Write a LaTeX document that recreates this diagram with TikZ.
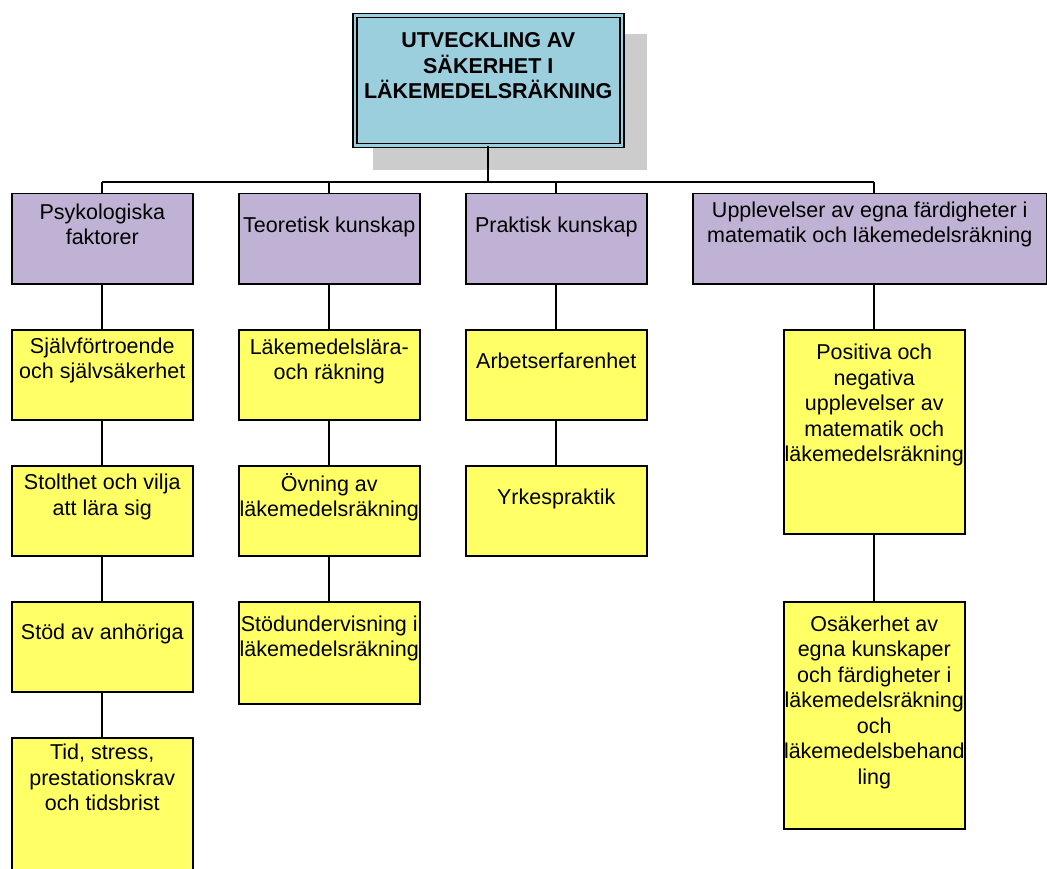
\documentclass[tikz,border=0pt]{standalone}
\usepackage{fontspec}
\setmainfont{Liberation Sans}
\usepackage{xcolor}

\definecolor{titleblue}{RGB}{155,207,221}
\definecolor{grouplilac}{RGB}{192,178,212}
\definecolor{itemyellow}{RGB}{255,255,102}
\definecolor{shadowgray}{RGB}{204,204,204}

\tikzset{
    box/.style={draw, line width=1.5pt, anchor=north west, inner sep=0pt},
    boxtext/.style={align=center, anchor=center, font=\fontsize{21.5}{25.5}\selectfont},
    link/.style={line width=1.6pt},
}

\begin{document}
\begin{tikzpicture}[x=1pt,y=-1pt]
        \clip (0,0) rectangle (1047,869);
        \fill[white] (0,0) rectangle (1047,869);

        \fill[shadowgray] (373,34) rectangle (647,170);
        \node[box, fill=titleblue, line width=1.5pt, double=titleblue, double distance=2.5pt,
              minimum width=267pt, minimum height=130pt,
              label={[boxtext, font=\fontsize{21.5}{25.5}\selectfont\bfseries, yshift=-51pt]north:{UTVECKLING AV\\S\"AKERHET I\\L\"AKEMEDELSR\"AKNING}}]
              (title) at (354,15) {};

        \foreach \n / \x / \y / \w / \off / \txt in {psyk/11/193/181/31.5/{Psykologiska\\faktorer},
                teor/238/193/181/34/{Teoretisk kunskap},
                prakt/465/193/181/34/{Praktisk kunskap},
                uppl/692/193/354/31.5/{Upplevelser av egna färdigheter i\\matematik och läkemedelsräkning}} {
            \node[box, fill=grouplilac, minimum width=\w pt, minimum height=90pt,
                  label={[boxtext, yshift=-\off pt]north:{\txt}}] (\n) at (\x,\y) {};
        };

        \foreach \n / \x / \y / \h / \off / \txt in {sjalv/11/329/90/31.5/{Självförtroende\\och självsäkerhet},
                stolt/11/465/90/32/{Stolthet och vilja\\att lära sig},
                stod/11/601/90/33/{Stöd av anhöriga},
                tid/11/737/150/40.5/{Tid, stress,\\prestationskrav\\och tidsbrist},
                lara/238/329/90/32.5/{Läkemedelslära-\\och räkning},
                ovning/238/465/90/32/{Övning av\\läkemedelsräkning},
                stodund/238/601/102/37.5/{Stödundervisning i\\läkemedelsräkning},
                arbete/465/329/90/32/{Arbetserfarenhet},
                yrke/465/465/90/34/{Yrkespraktik},
                pos/783/329/204/76/{Positiva och\\negativa\\upplevelser av\\matematik och\\läkemedelsräkning},
                osak/783/601/227/101/{Osäkerhet av\\egna kunskaper\\och färdigheter i\\läkemedelsräkning\\och\\läkemedelsbehand\\ling}} {
            \node[box, fill=itemyellow, minimum width=181pt, minimum height=\h pt,
                  label={[boxtext, yshift=-\off pt]north:{\txt}}] (\n) at (\x,\y) {};
        };

        % tree lines
        \coordinate (bus) at (title.south |- 0,182);
        \draw[link] (title.south) -- (bus);
        \draw[link] (psyk.north |- bus) -- (pos.north |- bus);
        \foreach \g in {psyk,teor,prakt} {
            \draw[link] (\g.north |- bus) -- (\g.north);
        };
        \draw[link] (pos.north |- bus) -- (pos.north |- uppl.north);
        \foreach \a / \b in {psyk/sjalv,sjalv/stolt,stolt/stod,stod/tid,
                teor/lara,lara/ovning,ovning/stodund,
                prakt/arbete,arbete/yrke,
                uppl/pos,pos/osak} {
            \draw[link] (\b.north |- \a.south) -- (\b.north);
        };
    \end{tikzpicture}
\end{document}
